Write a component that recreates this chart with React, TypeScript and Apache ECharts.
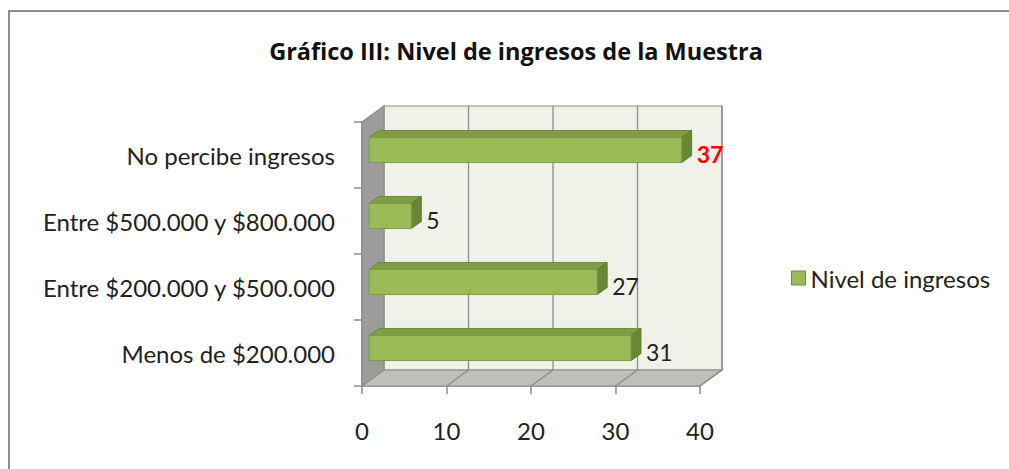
import React, { useEffect, useRef } from "react";
import * as echarts from "echarts";

const TITLE = "Gráfico III: Nivel de ingresos de la Muestra";
const SERIES_NAME = "Nivel de ingresos";
const CATEGORIES = [
  "Menos de $200.000",
  "Entre $200.000 y $500.000",
  "Entre $500.000 y $800.000",
  "No percibe ingresos",
];
const VALUES = [31, 27, 5, 37];
const X_TICKS = [0, 10, 20, 30, 40];

const FONT = "Lato, 'Open Sans', sans-serif";
const TITLE_FONT = "'Open Sans', Lato, sans-serif";
const GRID_COLOR = "#8C8C8C";

export default function App() {
  const ref = useRef<HTMLDivElement>(null);

  useEffect(() => {
    if (!ref.current) return;
    const chart = echarts.init(ref.current, undefined, { renderer: "svg" });
    const xMin = X_TICKS[0];
    const xMax = X_TICKS[X_TICKS.length - 1];
    const interval = X_TICKS[1] - X_TICKS[0];
    const maxVal = Math.max(...VALUES);
    const WALL_DX = 22;
    const WALL_DY = -16;
    const BAR_OX = 7;
    const BAR_OY = -5;
    const BAR_DX = 10;
    const BAR_DY = -7;

    const wallRender = (params: any, api: any) => {
      const n = CATEGORIES.length;
      const band = api.size([0, 1])[1];
      const p0 = api.coord([xMin, 0]);
      const pTop = api.coord([xMin, n - 1]);
      const x0 = p0[0];
      const yBot = p0[1] + band / 2;
      const yTop = pTop[1] - band / 2;
      const x1 = api.coord([xMax, 0])[0];
      const children: any[] = [];
      children.push({
        type: "polygon",
        shape: {
          points: [
            [x0 + WALL_DX, yTop + WALL_DY],
            [x1 + WALL_DX, yTop + WALL_DY],
            [x1 + WALL_DX, yBot + WALL_DY],
            [x0 + WALL_DX, yBot + WALL_DY],
          ],
        },
        style: { fill: "#F0F2EA", stroke: GRID_COLOR, lineWidth: 1.2 },
      });
      children.push({
        type: "polygon",
        shape: {
          points: [
            [x0, yTop],
            [x0 + WALL_DX, yTop + WALL_DY],
            [x0 + WALL_DX, yBot + WALL_DY],
            [x0, yBot],
          ],
        },
        style: { fill: "#9C9D9A", stroke: GRID_COLOR, lineWidth: 1.2 },
      });
      children.push({
        type: "polygon",
        shape: {
          points: [
            [x0, yBot],
            [x0 + WALL_DX, yBot + WALL_DY],
            [x1 + WALL_DX, yBot + WALL_DY],
            [x1, yBot],
          ],
        },
        style: { fill: "#BEBFBA", stroke: GRID_COLOR, lineWidth: 1.2 },
      });
      for (let v = xMin + interval; v <= xMax; v += interval) {
        const x = api.coord([v, 0])[0];
        children.push({
          type: "line",
          shape: { x1: x + WALL_DX, y1: yTop + WALL_DY, x2: x + WALL_DX, y2: yBot + WALL_DY },
          style: { stroke: GRID_COLOR, lineWidth: 1.3 },
        });
        children.push({
          type: "line",
          shape: { x1: x, y1: yBot, x2: x + WALL_DX, y2: yBot + WALL_DY },
          style: { stroke: GRID_COLOR, lineWidth: 1.3 },
        });
      }
      return { type: "group", children };
    };

    const barRender = (params: any, api: any) => {
      const value = api.value(0);
      const idx = api.value(1);
      const band = api.size([0, 1])[1];
      const pS = api.coord([xMin, idx]);
      const pE = api.coord([value, idx]);
      const h = band * 0.38;
      const c = pS[1] + BAR_OY;
      const xs = pS[0] + BAR_OX;
      const xe = pE[0] + BAR_OX;
      const yt = c - h / 2;
      const yb = c + h / 2;
      const highlight = value === maxVal;
      return {
        type: "group",
        children: [
          {
            type: "polygon",
            shape: {
              points: [
                [xs, yt],
                [xe, yt],
                [xe + BAR_DX, yt + BAR_DY],
                [xs + BAR_DX, yt + BAR_DY],
              ],
            },
            style: { fill: "#7F9D45", stroke: "#6E8B3A", lineWidth: 1 },
          },
          {
            type: "polygon",
            shape: {
              points: [
                [xe, yt],
                [xe + BAR_DX, yt + BAR_DY],
                [xe + BAR_DX, yb + BAR_DY],
                [xe, yb],
              ],
            },
            style: { fill: "#6A8735", stroke: "#5F7A30", lineWidth: 1 },
          },
          {
            type: "rect",
            shape: { x: xs, y: yt, width: xe - xs, height: h },
            style: { fill: "#9BBB59", stroke: "#7F9C45", lineWidth: 1 },
          },
          {
            type: "text",
            style: {
              text: String(value),
              x: xe + BAR_DX + 5,
              y: pS[1] - 1,
              fill: highlight ? "#FF0000" : "#222222",
              fontSize: 23,
              fontWeight: highlight ? "bold" : "normal",
              fontFamily: FONT,
              verticalAlign: "middle",
              align: "left",
            },
          },
        ],
      };
    };

    chart.setOption({
      animation: false,
      backgroundColor: "#FFFFFF",
      title: {
        text: TITLE,
        left: 511,
        top: 34,
        textAlign: "center",
        textStyle: { fontFamily: TITLE_FONT, fontSize: 23.5, fontWeight: "bold", color: "#111" },
      },
      graphic: [
        {
          type: "rect",
          shape: { x: 9, y: 11, width: 1100, height: 600 },
          style: { fill: "none", stroke: "#8E8E8E", lineWidth: 2 },
          z: 0,
        },
      ],
      legend: {
        data: [SERIES_NAME],
        left: 786,
        top: 261,
        icon: "rect",
        itemWidth: 14,
        itemHeight: 14,
        itemGap: 8,
        itemStyle: { borderColor: "#6E8B3A", borderWidth: 1 },
        textStyle: { fontFamily: FONT, fontSize: 24, color: "#222" },
      },
      grid: { left: 362, right: 309, top: 122, bottom: 83 },
      xAxis: {
        type: "value",
        min: xMin,
        max: xMax,
        interval,
        axisLine: { show: true, lineStyle: { color: GRID_COLOR, width: 1.5 } },
        axisTick: { show: true, length: 8, lineStyle: { color: GRID_COLOR, width: 1.5 } },
        axisLabel: { margin: 32, fontFamily: FONT, fontSize: 24, color: "#222" },
        splitLine: { show: false },
      },
      yAxis: {
        type: "category",
        data: CATEGORIES,
        axisLine: { show: true, lineStyle: { color: GRID_COLOR, width: 1.5 } },
        axisTick: { show: true, length: 8, lineStyle: { color: GRID_COLOR, width: 1.5 } },
        axisLabel: { margin: 27, fontFamily: FONT, fontSize: 24, color: "#222" },
        splitLine: { show: false },
      },
      series: [
        {
          type: "custom",
          name: "walls",
          renderItem: wallRender,
          data: [[xMin, 0]],
          encode: { x: 0, y: 1 },
          clip: false,
          silent: true,
          z: 1,
        },
        {
          type: "custom",
          name: SERIES_NAME,
          renderItem: barRender,
          data: VALUES.map((v, i) => [v, i]),
          encode: { x: 0, y: 1 },
          itemStyle: { color: "#9BBB59" },
          clip: false,
          z: 3,
        },
      ],
    });
    return () => chart.dispose();
  }, []);

  return (
    <div
      ref={ref}
      style={{ position: "fixed", left: 0, top: 0, width: 1009, height: 469 }}
    />
  );
}
